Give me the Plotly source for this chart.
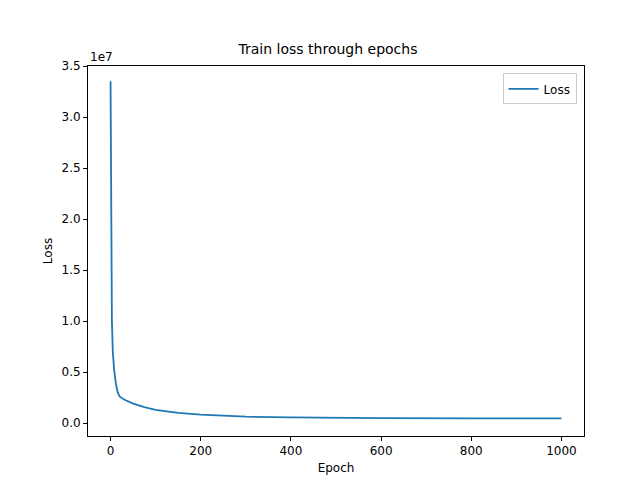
import plotly.graph_objects as go

epochs = [0, 1, 2, 3, 5, 8, 12, 16, 20, 30, 50, 75, 100, 150, 200, 250, 300, 400, 500, 600, 800, 1000]
loss = [33.5e6, 22e6, 14e6, 10e6, 7e6, 5.2e6, 3.8e6, 3.0e6, 2.6e6, 2.3e6, 1.9e6, 1.55e6, 1.3e6,
        1.0e6, 0.82e6, 0.7e6, 0.62e6, 0.55e6, 0.5e6, 0.48e6, 0.46e6, 0.45e6]

y_ticks = [i * 0.5e7 for i in range(8)]
y_labels = [f'{i * 0.5:.1f}' for i in range(8)]

fig = go.Figure()
fig.add_trace(go.Scatter(x=epochs, y=loss, mode='lines', name='Loss', showlegend=True,
                         line=dict(color='#1f77b4', width=1.8)))

axis_style = dict(showline=True, linecolor='black', linewidth=1, mirror=True, ticks='outside',
                  ticklen=4, tickcolor='black', showgrid=False, zeroline=False, automargin=False,
                  tickfont=dict(size=12))
fig.update_xaxes(range=[-50, 1050], tickvals=[0, 200, 400, 600, 800, 1000],
                 title=dict(text='Epoch', standoff=6, font=dict(size=12)), **axis_style)
fig.update_yaxes(range=[-1.27e6, 3.5e7], tickvals=y_ticks, ticktext=y_labels,
                 title=dict(text='Loss', standoff=6, font=dict(size=12)), **axis_style)
fig.add_annotation(text='1e7', xref='paper', yref='paper', x=0, y=1.0, xanchor='left',
                   yanchor='bottom', showarrow=False, font=dict(size=12))
fig.update_layout(
    width=640, height=480,
    template='none',
    font=dict(family='DejaVu Sans', size=12, color='black'),
    title=dict(text='Train loss through epochs', x=0.5, xanchor='center', y=0.925,
               font=dict(size=14)),
    margin=dict(l=80, r=64, t=58, b=52),
    plot_bgcolor='white', paper_bgcolor='white',
    showlegend=True,
    legend=dict(x=0.985, y=0.98, xanchor='right', yanchor='top', bordercolor='#cccccc',
                borderwidth=1, bgcolor='white', font=dict(size=12)),
)
fig.write_html('out.html')
